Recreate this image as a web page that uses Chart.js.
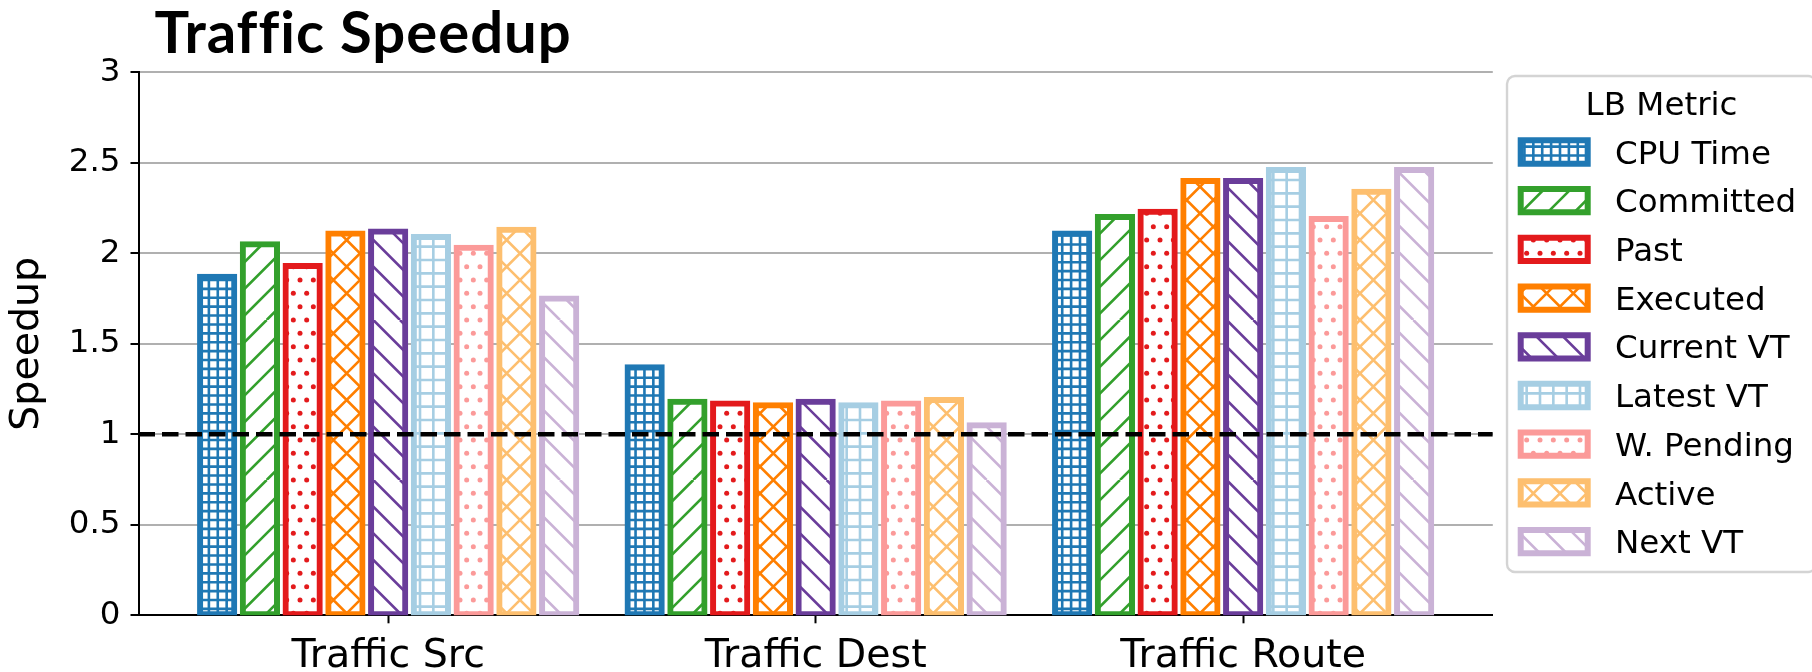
<!DOCTYPE html>
<html>
<head>
<meta charset="utf-8">
<title>Traffic Speedup</title>
<script src="https://cdn.jsdelivr.net/npm/chart.js@4.4.1/dist/chart.umd.min.js"></script>
<style>
  html, body { margin: 0; padding: 0; background: #ffffff; }
  canvas { display: block; }
</style>
</head>
<body>
<canvas id="chart" width="1812" height="672"></canvas>
<script>
// ---- data ----------------------------------------------------------------
const chartTitle = 'Traffic Speedup';
const legendTitle = 'LB Metric';
const yAxisTitle = 'Speedup';
const categories = ['Traffic Src', 'Traffic Dest', 'Traffic Route'];
const metrics = ['CPU Time', 'Committed', 'Past', 'Executed', 'Current VT',
                 'Latest VT', 'W. Pending', 'Active', 'Next VT'];

const cpuTime   = [1.87, 1.37, 2.11];
const committed = [2.05, 1.18, 2.20];
const past      = [1.93, 1.17, 2.23];
const executed  = [2.11, 1.16, 2.40];
const currentVT = [2.12, 1.18, 2.40];
const latestVT  = [2.09, 1.16, 2.46];
const wPending  = [2.03, 1.17, 2.19];
const active    = [2.13, 1.19, 2.34];
const nextVT    = [1.75, 1.05, 2.46];

const yTicks = [0, 0.5, 1, 1.5, 2, 2.5, 3];
const yTickLabels = ['0', '0.5', '1', '1.5', '2', '2.5', '3'];
const speedupBaseline = 1;

// ---- styling ---------------------------------------------------------------
const seriesValues = [cpuTime, committed, past, executed, currentVT,
                      latestVT, wPending, active, nextVT];
const seriesColors = ['#1f78b4', '#33a02c', '#e31a1c', '#ff7f00', '#6a3d9a',
                      '#a6cee3', '#fb9a99', '#fdbf6f', '#cab2d6'];
const seriesHatches = ['+++', '/', '..', 'x', '\\', '++', '..', 'x', '\\'];

const FONT = 'DejaVu Sans';
const barStep = 0.1;     // distance between neighbouring bars of a group
const barWidth = 0.08;   // bar width in category units
const edgeWidth = 6;

// Axis range: bar extent plus a 5% margin on each side.
const firstEdge = -(metrics.length - 1) / 2 * barStep - barWidth / 2;
const lastEdge = (categories.length - 1) + (metrics.length - 1) / 2 * barStep + barWidth / 2;
const xMargin = 0.05 * (lastEdge - firstEdge);
const xMin = firstEdge - xMargin;
const xMax = lastEdge + xMargin;

// Hatch fills built in the style of matplotlib hatch strings.
const HATCH_TILE = 160;
function hatchPattern(hatch, color) {
  const T = HATCH_TILE;
  const c = document.createElement('canvas');
  c.width = T; c.height = T;
  const g = c.getContext('2d');
  g.fillStyle = '#ffffff';
  g.fillRect(0, 0, T, T);
  g.strokeStyle = color;
  g.fillStyle = color;
  g.lineWidth = 2.6;
  const count = ch => hatch.split(ch).length - 1;
  const nV = (count('|') + count('+')) * 6;
  const nH = (count('-') + count('+')) * 6;
  const nNE = (count('/') + count('x')) * 6;
  const nNW = (count('\\') + count('x')) * 6;
  const nDot = count('.') * 6;
  g.beginPath();
  for (let i = 0; i < nV; i++) { const x = (i + 0.5) * T / nV; g.moveTo(x, 0); g.lineTo(x, T); }
  for (let i = 0; i < nH; i++) { const y = (i + 0.5) * T / nH; g.moveTo(0, y); g.lineTo(T, y); }
  for (let i = -nNE; i <= nNE; i++) { const x0 = i * T / nNE; g.moveTo(x0, T); g.lineTo(x0 + T, 0); }
  for (let i = -nNW; i <= nNW; i++) { const x0 = i * T / nNW; g.moveTo(x0, 0); g.lineTo(x0 + T, T); }
  g.stroke();
  if (nDot) {
    const s = T / nDot;
    for (let r = 0; r <= nDot; r++) {
      const y = r * s;
      const cols = r % 2 === 0 ? nDot + 1 : nDot;
      for (let k = 0; k < cols; k++) {
        const x = r % 2 === 0 ? k * s : (k + 0.5) * s;
        g.beginPath();
        g.arc(x, y, 2.5, 0, Math.PI * 2);
        g.fill();
      }
    }
  }
  return g.createPattern(c, 'repeat');
}

const datasets = metrics.map((name, j) => ({
  type: 'bar',
  label: name,
  data: seriesValues[j].map((v, i) => ({ x: i + (j - (metrics.length - 1) / 2) * barStep, y: v })),
  backgroundColor: hatchPattern(seriesHatches[j], seriesColors[j]),
  borderColor: seriesColors[j],
  borderWidth: edgeWidth,
  borderSkipped: false,
  inflateAmount: edgeWidth / 2,
  grouped: false,
  barPercentage: barWidth / barStep,
  categoryPercentage: 1,
  clip: 0,
  order: 1
}));

datasets.push({
  type: 'line',
  label: 'baseline',
  data: [{ x: xMin, y: speedupBaseline }, { x: xMax, y: speedupBaseline }],
  borderColor: '#000000',
  borderWidth: 4.4,
  borderDash: [16.5, 7],
  pointRadius: 0,
  fill: false,
  order: 0
});

// Title text and the framed legend, drawn on top of the plot.
const decorations = {
  id: 'decorations',
  afterDraw(chart) {
    const ctx = chart.ctx;
    ctx.save();
    ctx.fillStyle = '#000000';
    ctx.textAlign = 'left';
    ctx.textBaseline = 'alphabetic';
    ctx.font = 'bold 58px Lato';
    ctx.letterSpacing = '1px';
    ctx.fillText(chartTitle, chart.chartArea.left + 16, 53);
    ctx.letterSpacing = '0px';

    const box = { left: 1507, top: 76, right: 1816, bottom: 572 };
    ctx.beginPath();
    ctx.roundRect(box.left, box.top, box.right - box.left, box.bottom - box.top, 8);
    ctx.fillStyle = 'rgba(255,255,255,0.8)';
    ctx.fill();
    ctx.strokeStyle = 'rgba(204,204,204,0.85)';
    ctx.lineWidth = 2.4;
    ctx.stroke();

    ctx.fillStyle = '#000000';
    ctx.font = '32.5px "' + FONT + '"';
    ctx.textAlign = 'center';
    ctx.fillText(legendTitle, (box.left + box.right) / 2, 115);

    const firstRow = 152, rowStep = 48.7;
    const patchLeft = 1520.7, patchW = 67, patchH = 23.3, textLeft = 1615;
    chart.data.datasets.forEach((ds, j) => {
      if (ds.type !== 'bar') return;
      const cy = firstRow + j * rowStep;
      ctx.beginPath();
      ctx.rect(patchLeft, cy - patchH / 2, patchW, patchH);
      ctx.fillStyle = ds.backgroundColor;
      ctx.fill();
      ctx.strokeStyle = ds.borderColor;
      ctx.lineWidth = edgeWidth;
      ctx.stroke();
      ctx.fillStyle = '#000000';
      ctx.textAlign = 'left';
      ctx.fillText(ds.label, textLeft, cy + 11.6);
    });
    ctx.restore();
  }
};

new Chart(document.getElementById('chart'), {
  type: 'bar',
  data: { datasets },
  plugins: [decorations],
  options: {
    responsive: false,
    devicePixelRatio: 1,
    animation: false,
    events: [],
    layout: { padding: { top: 72.3, right: 319.2, left: 0, bottom: 0 } },
    plugins: {
      legend: { display: false },
      tooltip: { enabled: false },
      title: { display: false }
    },
    scales: {
      x: {
        type: 'linear',
        min: xMin,
        max: xMax,
        offset: false,
        z: 1,
        afterFit(scale) { scale.height = 56.7; },
        afterBuildTicks(scale) { scale.ticks = categories.map((_, i) => ({ value: i })); },
        ticks: {
          autoSkip: false,
          maxRotation: 0,
          padding: 9.6,
          color: '#000000',
          font: { family: FONT, size: 39.5 },
          callback: v => categories[v]
        },
        grid: {
          offset: false,
          drawOnChartArea: false,
          drawTicks: true,
          tickLength: 8,
          tickColor: '#000000',
          tickWidth: 2
        },
        border: { display: true, color: '#000000', width: 2 }
      },
      y: {
        type: 'linear',
        min: 0,
        max: 3,
        afterFit(scale) { scale.width = 138.5; },
        afterBuildTicks(scale) { scale.ticks = yTicks.map(v => ({ value: v })); },
        ticks: {
          padding: 10,
          color: '#000000',
          font: { family: FONT, size: 32.5 },
          callback: v => yTickLabels[yTicks.indexOf(v)]
        },
        grid: {
          color: '#b0b0b0',
          lineWidth: 2,
          drawTicks: true,
          tickLength: 8,
          tickColor: '#000000',
          tickWidth: 2
        },
        border: { display: true, color: '#000000', width: 2 },
        title: {
          display: true,
          text: yAxisTitle,
          color: '#000000',
          font: { family: FONT, size: 39.5 },
          padding: { top: 4, bottom: 0 }
        }
      }
    }
  }
});
</script>
</body>
</html>
